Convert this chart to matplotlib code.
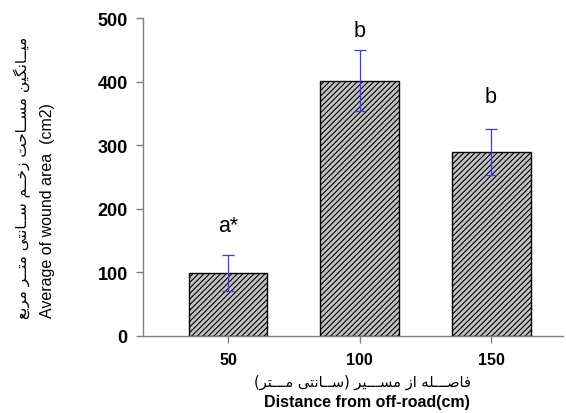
import matplotlib
matplotlib.use('Agg')
import matplotlib.pyplot as plt
import numpy as np

# data
distances = ['50', '100', '150']
wound_area = [99, 402, 289]
wound_err = [28, 48, 36]
letters = ['a*', 'b', 'b']
letter_y = [173, 480, 377]

# persian labels (logical order, shaped below)
ylabel_fa = 'میــانگین مســاحت زخــم ســانتی متــر مربع'
xlabel_fa = 'فاصـــله از مســـیر (ســانتی مـــتر)'

# isolated, final, initial, medial forms
FORMS = {
    'ا': ('\uFE8D', '\uFE8E'),
    'ب': ('\uFE8F', '\uFE90', '\uFE91', '\uFE92'),
    'ت': ('\uFE95', '\uFE96', '\uFE97', '\uFE98'),
    'ح': ('\uFEA1', '\uFEA2', '\uFEA3', '\uFEA4'),
    'خ': ('\uFEA5', '\uFEA6', '\uFEA7', '\uFEA8'),
    'ر': ('\uFEAD', '\uFEAE'),
    'ز': ('\uFEAF', '\uFEB0'),
    'س': ('\uFEB1', '\uFEB2', '\uFEB3', '\uFEB4'),
    'ص': ('\uFEB9', '\uFEBA', '\uFEBB', '\uFEBC'),
    'ع': ('\uFEC9', '\uFECA', '\uFECB', '\uFECC'),
    'ف': ('\uFED1', '\uFED2', '\uFED3', '\uFED4'),
    'ل': ('\uFEDD', '\uFEDE', '\uFEDF', '\uFEE0'),
    'م': ('\uFEE1', '\uFEE2', '\uFEE3', '\uFEE4'),
    'ن': ('\uFEE5', '\uFEE6', '\uFEE7', '\uFEE8'),
    'ه': ('\uFEE9', '\uFEEA', '\uFEEB', '\uFEEC'),
    'ی': ('\uFBFC', '\uFBFD', '\uFBFE', '\uFBFF'),
    'گ': ('\uFB92', '\uFB93', '\uFB94', '\uFB95'),
}
TATWEEL = 'ـ'


def joins_forward(c):
    return c == TATWEEL or (c in FORMS and len(FORMS[c]) == 4)


def joins_back(c):
    return c == TATWEEL or c in FORMS


def shape(text):
    out = []
    for i, c in enumerate(text):
        if c not in FORMS:
            out.append(c)
            continue
        prev = text[i - 1] if i > 0 else ''
        nxt = text[i + 1] if i + 1 < len(text) else ''
        before = joins_forward(prev)
        after = joins_forward(c) and joins_back(nxt)
        f = FORMS[c]
        if before and after:
            out.append(f[3])
        elif before:
            out.append(f[1])
        elif after:
            out.append(f[2])
        else:
            out.append(f[0])
    mirror = {'(': ')', ')': '('}
    return ''.join(mirror.get(c, c) for c in reversed(out))


fig = plt.figure(figsize=(5.66, 4.14), dpi=100)
ax = fig.add_axes([0.2527, 0.1867, 0.7420, 0.7667])

x = np.arange(len(distances))
plt.rcParams['hatch.linewidth'] = 0.8
plt.rcParams['hatch.color'] = '#333333'
ax.bar(x, wound_area, width=0.6, color='#c2c2c2', edgecolor='black',
       linewidth=1.0, hatch='//////')
ax.errorbar(x, wound_area, yerr=wound_err, fmt='none', ecolor='#3a3aff',
            elinewidth=0.9, capsize=4, capthick=0.9)

for xi, lab, ly in zip(x, letters, letter_y):
    ax.text(xi, ly, lab, ha='center', va='center', fontsize=15.5,
            family='Liberation Sans')

ax.set_xlim(-0.646, 2.547)
ax.set_ylim(0, 500)
ax.set_xticks(x)
ax.set_xticklabels(distances)
ax.set_yticks(np.arange(0, 501, 100))

for s in ['top', 'right']:
    ax.spines[s].set_visible(False)
for s in ['left', 'bottom']:
    ax.spines[s].set_color('#808080')
    ax.spines[s].set_linewidth(1.0)
ax.tick_params(colors='#808080', length=5, width=1.0)
ax.tick_params(axis='y', pad=6)
ax.tick_params(axis='x', pad=7)
for t in ax.get_xticklabels():
    t.set_fontsize(11.5)
for t in ax.get_yticklabels():
    t.set_fontsize(13)
for t in ax.get_xticklabels() + ax.get_yticklabels():
    t.set_color('black')
    t.set_fontweight('bold')
    t.set_family('Liberation Sans')

fig.text(362 / 566, 1 - 382 / 414, shape(xlabel_fa), ha='center',
         va='center', fontsize=10.5, family='DejaVu Sans')
fig.text(367 / 566, 1 - 403 / 414, 'Distance from off-road(cm)',
         ha='center', va='center', fontsize=11.5, fontweight='bold',
         family='Liberation Sans')
fig.text(48 / 566, 1 - 211 / 414, 'Average of wound area  (cm2)',
         ha='center', va='center', rotation=90, fontsize=11.5,
         family='Liberation Sans')
fig.text(22 / 566, 1 - 178 / 414, shape(ylabel_fa), ha='center',
         va='center', rotation=90, fontsize=11, family='DejaVu Sans')

fig.savefig('out.png', dpi=100)
